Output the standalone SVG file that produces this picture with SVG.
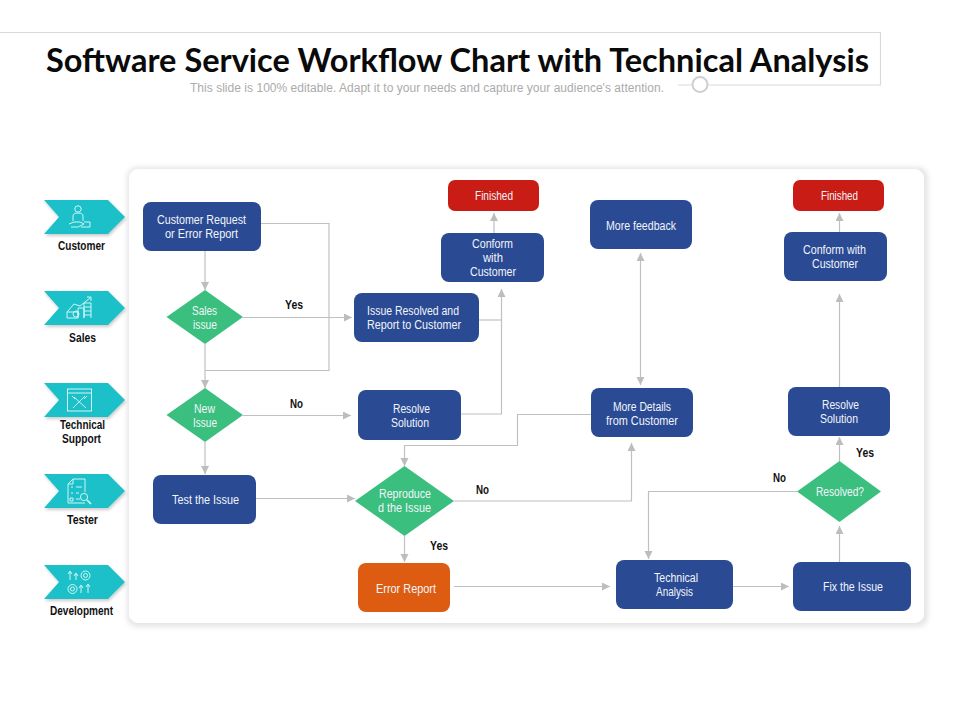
<svg xmlns="http://www.w3.org/2000/svg" width="960" height="720" viewBox="0 0 960 720">
<style>
text{font-family:"Liberation Sans",Arial,sans-serif}
.n text{font-size:12px;fill:#f2f5fa;text-anchor:start}
.box{fill:#2a4a94}
.red{fill:#c91c14}
.org{fill:#dd5c12}
.dia{fill:#3bbf7e}
.chev{fill:#1fc0c8;filter:url(#cs)}
.lane text{font-size:12px;font-weight:700;fill:#111}
.lbl{font-size:12px;font-weight:700;fill:#111}
.c path{fill:none;stroke:#c0c0c0;stroke-width:1.2}
.ic *{fill:none;stroke:#e4fbfb;stroke-width:.9}
.hd{fill:none;stroke:#d9d9d9;stroke-width:1.2}
</style>
<defs>
<marker id="a" markerUnits="userSpaceOnUse" markerWidth="10" markerHeight="10" refX="8" refY="4" orient="auto-start-reverse"><path d="M0,0 L8,4 L0,8 Z" fill="#bdbdbd"/></marker>
<filter id="ps" x="-5%" y="-5%" width="110%" height="110%"><feMorphology in="SourceAlpha" operator="dilate" radius="3" result="d"/><feGaussianBlur in="d" stdDeviation="2.500" result="b"/><feFlood flood-color="#000" flood-opacity=".1"/><feComposite in2="b" operator="in"/><feOffset dx="1" dy="1"/><feMerge><feMergeNode/><feMergeNode in="SourceGraphic"/></feMerge></filter>
<filter id="cs" x="-10%" y="-20%" width="125%" height="150%"><feDropShadow dx="1" dy="2" stdDeviation="1.5" flood-color="#000" flood-opacity=".2"/></filter>
</defs>
<rect width="960" height="720" fill="#fff"/>
<g id="header">
<path class="hd" d="M0,32.5 H880.5 V85 H678"/>
<circle cx="700" cy="84.5" r="7.5" fill="#fff" stroke="#cfcfcf" stroke-width="2"/>
<text x="46" y="72" font-size="32.500" font-weight="700" fill="#0a0a0a" style="font-family:Lato,'Liberation Sans',sans-serif" textLength="823" lengthAdjust="spacing">Software Service Workflow Chart with Technical Analysis</text>
<text x="190" y="92" font-size="12" fill="#ababab" textLength="474" lengthAdjust="spacing">This slide is 100% editable. Adapt it to your needs and capture your audience's attention.</text>
</g>
<rect id="panel" x="129" y="169" width="795" height="454" rx="10" fill="#fff" filter="url(#ps)"/>
<g id="lanes" class="lane">
<g id="lane-customer"><polygon class="chev" points="44,200 108,200 125,217 108,234 44,234 59,217"/>
<g class="ic"><circle cx="78" cy="209" r="3.2"/><path d="M73,221 V216 Q73,213 78,213 Q83,213 83,216 V221 M69,224 L74,222 H80 L84,224 L78,227 H71 M84,222 H90 V227 H81"/></g>
<text x="58" y="250" textLength="47" lengthAdjust="spacingAndGlyphs">Customer</text></g>
<g id="lane-sales"><polygon class="chev" points="44,291 108,291 125,308 108,325 44,325 59,308"/>
<g class="ic"><path d="M67,312 L74,304 L80,306 L90,298 M87,297 L91,297 L91,301 M67,318 H78 V312 H67 Z M78,318 V308 H84 V318 M84,318 V303 H91 V318 M84,307 H91 M84,311 H91 M84,315 H91"/><circle cx="76" cy="314" r="3"/></g>
<text x="69" y="342" textLength="27" lengthAdjust="spacingAndGlyphs">Sales</text></g>
<g id="lane-tech"><polygon class="chev" points="44,383 108,383 125,400 108,417 44,417 59,400"/>
<g class="ic"><rect x="67.500" y="389" width="24" height="22"/><path d="M67.500,393 H91.500 M74,397 L86,408 M85,396 L73,408 M84,399 L87,396 M72,396 L75,399"/></g>
<text x="60" y="429" textLength="45" lengthAdjust="spacingAndGlyphs">Technical</text>
<text x="62" y="443" textLength="39" lengthAdjust="spacingAndGlyphs">Support</text></g>
<g id="lane-tester"><polygon class="chev" points="44,474 108,474 125,491 108,508 44,508 59,491"/>
<g class="ic"><path d="M73,479 H85 V492 M85,503 H68 V484 L73,479 V484 H68 M71,487 H73 M76,487 H82 M71,493 H73 M76,493 H79 M70,498 H73 V501 H70 Z M76,499 H80"/><circle cx="84" cy="497" r="3.6"/><path d="M87,500 L91,504" style="stroke-width:1.6"/></g>
<text x="67" y="524" textLength="31" lengthAdjust="spacingAndGlyphs">Tester</text></g>
<g id="lane-dev"><polygon class="chev" points="44,565 108,565 125,582 108,599 44,599 59,582"/>
<g class="ic"><path d="M70,580 V572 M68,574 L70,571 L72,574 M76,580 V574 M74,576 L76,573 L78,576 M81,593 V586 M79,588 L81,585 L83,588 M88,593 V585 M86,587 L88,584 L90,587"/><circle cx="85.500" cy="575.500" r="4.500"/><circle cx="85.500" cy="575.500" r="2"/><circle cx="72.500" cy="589" r="4.500"/><circle cx="72.500" cy="589" r="2"/></g>
<text x="50" y="615" textLength="63" lengthAdjust="spacingAndGlyphs">Development</text></g>
</g>
<g id="connectors" class="c">
<path marker-end="url(#a)" d="M205,251 V290"/>
<path d="M261,223.500 H329 V370.500 H205"/>
<path marker-end="url(#a)" d="M205,344 V388"/>
<path marker-end="url(#a)" d="M243,317.500 H352"/>
<path d="M479,320 H501.500"/>
<path marker-end="url(#a)" d="M461,414 H501.500 V289"/>
<path marker-end="url(#a)" d="M494,233 V213"/>
<path marker-end="url(#a)" d="M243,415.500 H351"/>
<path marker-end="url(#a)" d="M205,442 V474"/>
<path marker-end="url(#a)" d="M256,498.500 H355"/>
<path marker-end="url(#a)" d="M591,414.500 H517.500 V445.500 H404.500 V466"/>
<path marker-end="url(#a)" d="M404.500,536 V562"/>
<path marker-end="url(#a)" d="M454,501 H631.500 V443"/>
<path marker-end="url(#a)" d="M454,586.500 H610"/>
<path marker-end="url(#a)" d="M733,586.500 H789"/>
<path marker-end="url(#a)" d="M839.500,562 V526"/>
<path marker-end="url(#a)" d="M839.500,461 V437"/>
<path marker-end="url(#a)" d="M797,491.500 H648.500 V559"/>
<path marker-end="url(#a)" d="M839.500,387 V294"/>
<path marker-end="url(#a)" d="M839.500,232 V213"/>
<path marker-start="url(#a)" marker-end="url(#a)" d="M640.500,253 V385"/>
</g>
<g id="nodes" class="n">
<g id="n-request"><rect class="box" x="143" y="202" width="118" height="49" rx="8"/><text x="157" y="224" textLength="89" lengthAdjust="spacingAndGlyphs">Customer Request</text><text x="165" y="238" textLength="73" lengthAdjust="spacingAndGlyphs">or Error Report</text></g>
<g id="n-sales"><polygon class="dia" points="166.500,317 205,290 243,317 205,344"/><text x="192" y="315" textLength="25" lengthAdjust="spacingAndGlyphs">Sales</text><text x="193" y="329" textLength="24" lengthAdjust="spacingAndGlyphs">issue</text></g>
<g id="n-finished1"><rect class="red" x="448" y="180" width="91" height="31" rx="7"/><text x="475" y="200" textLength="38" lengthAdjust="spacingAndGlyphs">Finished</text></g>
<g id="n-conform1"><rect class="box" x="441" y="233" width="103" height="49" rx="8"/><text x="472" y="248" textLength="41" lengthAdjust="spacingAndGlyphs">Conform</text><text x="483" y="262" textLength="20" lengthAdjust="spacingAndGlyphs">with</text><text x="470" y="276" textLength="46" lengthAdjust="spacingAndGlyphs">Customer</text></g>
<g id="n-resolved"><rect class="box" x="354" y="293" width="125" height="49" rx="8"/><text x="367" y="315" textLength="92" lengthAdjust="spacingAndGlyphs">Issue Resolved and</text><text x="367" y="329" textLength="94" lengthAdjust="spacingAndGlyphs">Report to Customer</text></g>
<g id="n-new"><polygon class="dia" points="166.500,415 205,388 243,415 205,442"/><text x="194" y="413" textLength="21" lengthAdjust="spacingAndGlyphs">New</text><text x="193" y="427" textLength="24" lengthAdjust="spacingAndGlyphs">Issue</text></g>
<g id="n-solution1"><rect class="box" x="358" y="390" width="103" height="50" rx="8"/><text x="393" y="413" textLength="37" lengthAdjust="spacingAndGlyphs">Resolve</text><text x="391" y="427" textLength="38" lengthAdjust="spacingAndGlyphs">Solution</text></g>
<g id="n-test"><rect class="box" x="153" y="475" width="103" height="49" rx="8"/><text x="172" y="504" textLength="67" lengthAdjust="spacingAndGlyphs">Test the Issue</text></g>
<g id="n-repro"><polygon class="dia" points="355,501 404.500,466 454,501 404.500,536"/><text x="379" y="498" textLength="52" lengthAdjust="spacingAndGlyphs">Reproduce</text><text x="378" y="512" textLength="53" lengthAdjust="spacingAndGlyphs">d the Issue</text></g>
<g id="n-error"><rect class="org" x="358" y="563" width="92" height="49" rx="8"/><text x="376" y="593" textLength="60" lengthAdjust="spacingAndGlyphs">Error Report</text></g>
<g id="n-feedback"><rect class="box" x="590" y="200" width="102" height="49" rx="8"/><text x="606" y="230" textLength="70" lengthAdjust="spacingAndGlyphs">More feedback</text></g>
<g id="n-finished2"><rect class="red" x="793" y="180" width="91" height="31" rx="7"/><text x="821" y="200" textLength="37" lengthAdjust="spacingAndGlyphs">Finished</text></g>
<g id="n-conform2"><rect class="box" x="784" y="232" width="103" height="49" rx="8"/><text x="803" y="254" textLength="63" lengthAdjust="spacingAndGlyphs">Conform with</text><text x="812" y="268" textLength="46" lengthAdjust="spacingAndGlyphs">Customer</text></g>
<g id="n-details"><rect class="box" x="591" y="388" width="102" height="49" rx="8"/><text x="613" y="411" textLength="58" lengthAdjust="spacingAndGlyphs">More Details</text><text x="606" y="425" textLength="72" lengthAdjust="spacingAndGlyphs">from Customer</text></g>
<g id="n-solution2"><rect class="box" x="788" y="387" width="102" height="49" rx="8"/><text x="822" y="409" textLength="37" lengthAdjust="spacingAndGlyphs">Resolve</text><text x="820" y="423" textLength="38" lengthAdjust="spacingAndGlyphs">Solution</text></g>
<g id="n-resolvedq"><polygon class="dia" points="797,491.500 839.500,461 881,491.500 839.500,522"/><text x="816" y="496" textLength="48" lengthAdjust="spacingAndGlyphs">Resolved?</text></g>
<g id="n-analysis"><rect class="box" x="616" y="560" width="117" height="49" rx="8"/><text x="654" y="582" textLength="44" lengthAdjust="spacingAndGlyphs">Technical</text><text x="656" y="596" textLength="37" lengthAdjust="spacingAndGlyphs">Analysis</text></g>
<g id="n-fix"><rect class="box" x="793" y="562" width="118" height="49" rx="8"/><text x="823" y="591" textLength="60" lengthAdjust="spacingAndGlyphs">Fix the Issue</text></g>
</g>
<g id="labels">
<text class="lbl" x="285" y="309" textLength="18" lengthAdjust="spacingAndGlyphs">Yes</text>
<text class="lbl" x="290" y="408" textLength="13" lengthAdjust="spacingAndGlyphs">No</text>
<text class="lbl" x="476" y="494" textLength="13" lengthAdjust="spacingAndGlyphs">No</text>
<text class="lbl" x="430" y="550" textLength="18" lengthAdjust="spacingAndGlyphs">Yes</text>
<text class="lbl" x="856" y="457" textLength="18" lengthAdjust="spacingAndGlyphs">Yes</text>
<text class="lbl" x="773" y="482" textLength="13" lengthAdjust="spacingAndGlyphs">No</text>
</g>
</svg>
